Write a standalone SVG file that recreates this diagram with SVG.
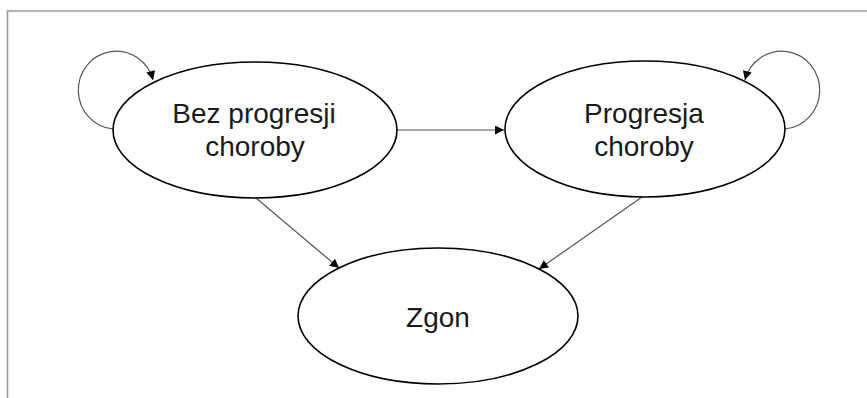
<svg xmlns="http://www.w3.org/2000/svg" width="867" height="398" viewBox="0 0 867 398">
  <style>
    .node { fill: #ffffff; stroke: #000000; stroke-width: 1.6; }
    .label { font-family: "Liberation Sans", Arial, sans-serif; font-size: 28px; fill: #1a1a1a; text-anchor: middle; }
    .edge { fill: none; stroke: #555555; stroke-width: 1.2; }
    .loop { fill: none; stroke: #555555; stroke-width: 1.2; }
  </style>
  <defs>
    <marker id="arrow" viewBox="0 0 10 10" refX="10" refY="5" markerWidth="11" markerHeight="9" markerUnits="userSpaceOnUse" orient="auto">
      <path d="M0,0 L10,5 L0,10 Z" fill="#000000"/>
    </marker>
  </defs>
  <rect width="867" height="398" fill="#ffffff"/>
  <path d="M7.5,398 L7.5,11 L867,11" fill="none" stroke="#999999" stroke-width="1.5"/>
  <g id="connectors">
    <path class="edge" d="M397,130 L504,130" marker-end="url(#arrow)"/>
    <path class="edge" d="M256,198 L339,268" marker-end="url(#arrow)"/>
    <path class="edge" d="M642,197 L539,269" marker-end="url(#arrow)"/>
    <path class="loop" d="M113,129 A38,39 0 1 1 153,80" marker-end="url(#arrow)"/>
    <path class="loop" d="M785,129 A38,39 0 1 0 745,80" marker-end="url(#arrow)"/>
  </g>
  <g id="node-bez">
    <ellipse class="node" cx="255" cy="130" rx="142" ry="68"/>
    <text class="label" x="254" y="122.5">Bez progresji</text>
    <text class="label" x="255" y="156">choroby</text>
  </g>
  <g id="node-progresja">
    <ellipse class="node" cx="645" cy="129" rx="140" ry="68"/>
    <text class="label" x="644" y="122.5">Progresja</text>
    <text class="label" x="644" y="156">choroby</text>
  </g>
  <g id="node-zgon">
    <ellipse class="node" cx="438" cy="316" rx="140" ry="68"/>
    <text class="label" x="438" y="326.5">Zgon</text>
  </g>
</svg>
